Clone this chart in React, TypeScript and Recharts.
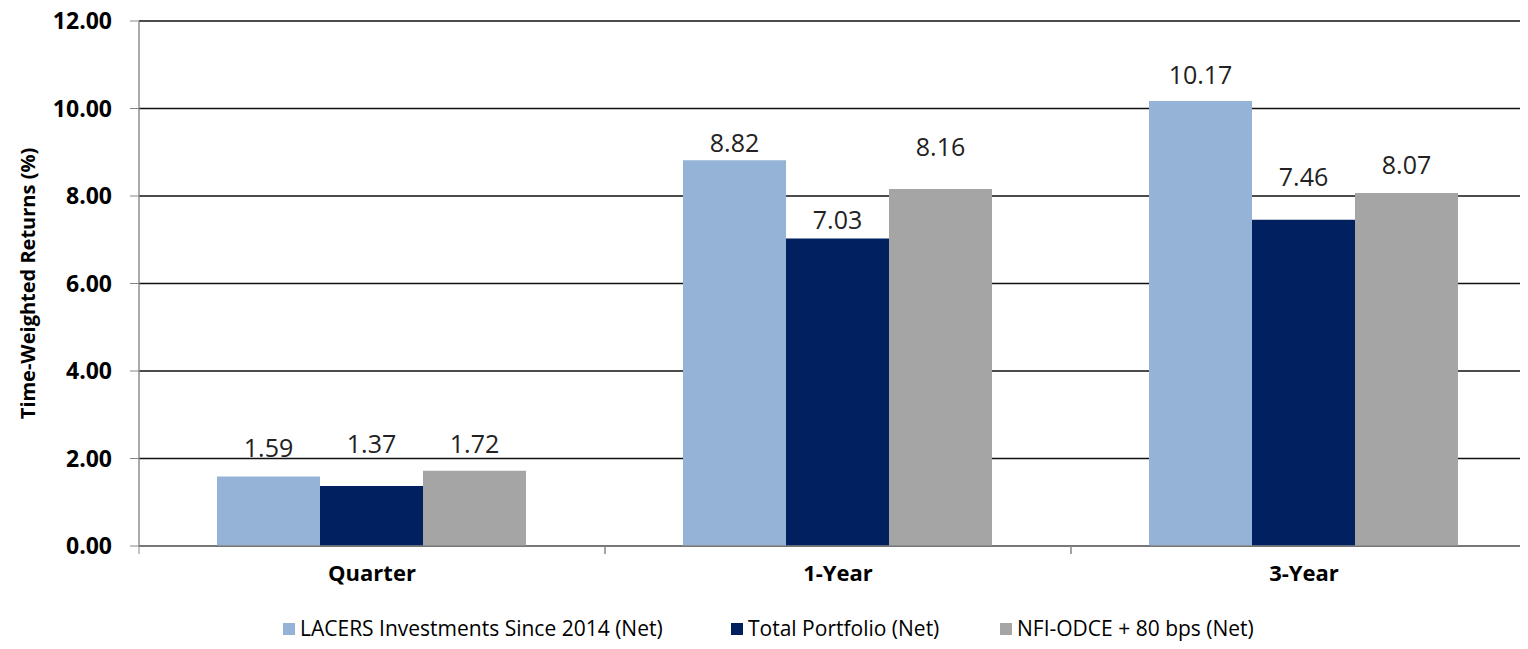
import { BarChart, Bar, XAxis, YAxis, CartesianGrid, Legend, LabelList } from 'recharts';

const categories = ['Quarter', '1-Year', '3-Year'];
const lacers = [1.59, 8.82, 10.17];
const totalPortfolio = [1.37, 7.03, 7.46];
const nfiOdce = [1.72, 8.16, 8.07];
const yTicks = [0, 2, 4, 6, 8, 10, 12];

const seriesNames = [
  'LACERS Investments Since 2014 (Net)',
  'Total Portfolio (Net)',
  'NFI-ODCE + 80 bps (Net)'
];
const colors = ['#95B3D7', '#002060', '#A5A5A5'];

// the source places its value labels by hand, so the gap above each bar varies
const labelGaps = {
  lacers: [19, 8, 17],
  total: [33, 9, 34],
  nfi: [18, 33, 19]
};

const data = categories.map((c, i) => ({
  name: c,
  lacers: lacers[i],
  total: totalPortfolio[i],
  nfi: nfiOdce[i]
}));

const W = 1540;
const H = 649;
const Y_AXIS_W = 139;
const PLOT_W = W - Y_AXIS_W - 3;
const BAND = PLOT_W / categories.length;

const font = "'Open Sans', sans-serif";

function CategoryTick(props: any) {
  const { x, y, payload } = props;
  return (
    <g>
      <line x1={x - BAND / 2} x2={x - BAND / 2} y1={y - 8} y2={y} stroke="#868686" />
      <line x1={x + BAND / 2} x2={x + BAND / 2} y1={y - 8} y2={y} stroke="#868686" />
      <text x={x} y={y + 27} textAnchor="middle" fontFamily={font} fontWeight={700} fontSize={22} fill="#000">
        {payload.value}
      </text>
    </g>
  );
}

function LegendContent() {
  const items = [
    { x: 283, text: seriesNames[0], color: colors[0] },
    { x: 731, text: seriesNames[1], color: colors[1] },
    { x: 1000, text: seriesNames[2], color: colors[2] }
  ];
  return (
    <svg width={W} height={34} style={{ display: 'block' }}>
      {items.map(it => (
        <g key={it.text}>
          <rect x={it.x} y={11} width={12} height={12} fill={it.color} />
          <text x={it.x + 17} y={24} fontFamily={font} fontSize={21} fill="#000">
            {it.text}
          </text>
        </g>
      ))}
    </svg>
  );
}

function makeLabel(key: 'lacers' | 'total' | 'nfi') {
  return (props: any) => {
    const { x, y, width, value, index } = props;
    return (
      <text
        x={x + width / 2}
        y={y - labelGaps[key][index]}
        textAnchor="middle"
        fontFamily={font}
        fontSize={25}
        fill="#222"
      >
        {Number(value).toFixed(2)}
      </text>
    );
  };
}

export default function App() {
  return (
    <div style={{ margin: -8, width: 1528, height: H, overflow: 'hidden', background: '#fff' }}>
      <BarChart
        width={W}
        height={H}
        data={data}
        margin={{ top: 21, right: 3, left: 0, bottom: 63 }}
        barCategoryGap={78}
        barGap={0}
      >
        <CartesianGrid vertical={false} stroke="#111" strokeWidth={1.4} />
        <XAxis
          dataKey="name"
          height={40}
          axisLine={{ stroke: '#868686', strokeWidth: 1.4 }}
          tickLine={false}
          tick={<CategoryTick />}
          interval={0}
        />
        <YAxis
          width={Y_AXIS_W}
          domain={[0, 12]}
          ticks={yTicks}
          interval={0}
          tickFormatter={(v: number) => v.toFixed(2)}
          axisLine={{ stroke: '#868686', strokeWidth: 1.4 }}
          tickLine={{ stroke: '#868686' }}
          tickSize={9}
          tickMargin={18}
          tick={{ fill: '#000', fontSize: 23, fontWeight: 700, fontFamily: font }}
          label={({ viewBox }: any) => (
            <text
              x={27}
              y={viewBox.y + viewBox.height / 2}
              transform={`rotate(-90, 27, ${viewBox.y + viewBox.height / 2})`}
              textAnchor="middle"
              dominantBaseline="central"
              fontFamily={font}
              fontWeight={700}
              fontSize={20}
              fill="#000"
            >
              Time-Weighted Returns (%)
            </text>
          )}
        />
        <Legend
          layout="horizontal"
          verticalAlign="middle"
          align="center"
          wrapperStyle={{ top: 612, left: 0, width: W }}
          content={<LegendContent />}
        />
        <Bar dataKey="lacers" name={seriesNames[0]} fill={colors[0]} isAnimationActive={false}>
          <LabelList dataKey="lacers" content={makeLabel('lacers')} />
        </Bar>
        <Bar dataKey="total" name={seriesNames[1]} fill={colors[1]} isAnimationActive={false}>
          <LabelList dataKey="total" content={makeLabel('total')} />
        </Bar>
        <Bar dataKey="nfi" name={seriesNames[2]} fill={colors[2]} isAnimationActive={false}>
          <LabelList dataKey="nfi" content={makeLabel('nfi')} />
        </Bar>
      </BarChart>
    </div>
  );
}
